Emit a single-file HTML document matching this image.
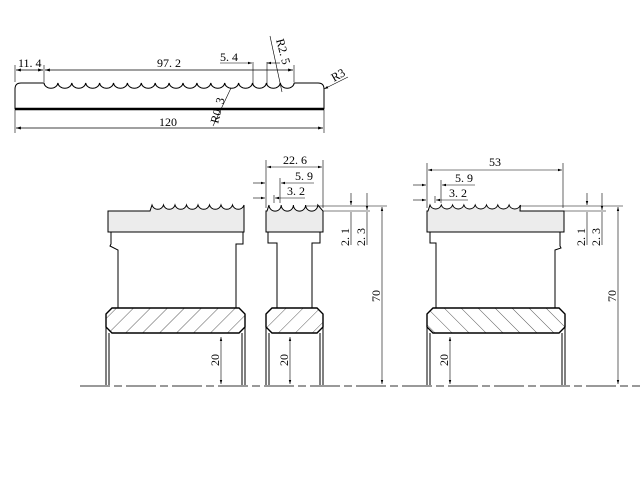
<!DOCTYPE html>
<html><head><style>html,body{margin:0;padding:0;background:#fff}svg{display:block}</style></head><body>
<svg width="640" height="480" viewBox="0 0 640 480" xmlns="http://www.w3.org/2000/svg" font-family="Liberation Serif, serif">
<defs>
<pattern id="hl" width="12" height="12" patternUnits="userSpaceOnUse" patternTransform="rotate(45)"><line x1="0" y1="0" x2="0" y2="12" stroke="#333" stroke-width="0.8"/></pattern>
<pattern id="hr" width="12" height="12" patternUnits="userSpaceOnUse" patternTransform="rotate(-45)"><line x1="0" y1="0" x2="0" y2="12" stroke="#333" stroke-width="0.8"/></pattern>
<marker id="a" viewBox="0 0 10 10" refX="10" refY="5" markerWidth="7" markerHeight="7" orient="auto-start-reverse"><path d="M0,2 L10,5 L0,8 z" fill="#000"/></marker>
</defs>
<g fill="none" stroke="#000" stroke-width="1">
<path d="M15,109 L15,89 Q15,83 21,83 L44,83 a7,6 0 0 0 13.9,0 a7,6 0 0 0 13.9,0 a7,6 0 0 0 13.9,0 a7,6 0 0 0 13.9,0 a7,6 0 0 0 13.9,0 a7,6 0 0 0 13.9,0 a7,6 0 0 0 13.9,0 a7,6 0 0 0 13.9,0 a7,6 0 0 0 13.9,0 a7,6 0 0 0 13.9,0 a7,6 0 0 0 13.9,0 a7,6 0 0 0 13.9,0 a7,6 0 0 0 13.9,0 a7,6 0 0 0 13.9,0 a7,6 0 0 0 13.9,0 a7,6 0 0 0 13.9,0 a7,6 0 0 0 13.9,0 a7,6 0 0 0 13.9,0 L318,83 Q324,83 324,89 L324,109 Z"/>
<line x1="15" y1="109" x2="324" y2="109" stroke-width="2.5"/>
<line x1="15" y1="110" x2="15" y2="133" stroke-width="0.6"/><line x1="324" y1="110" x2="324" y2="133" stroke-width="0.6"/>
<line x1="16" y1="128" x2="323" y2="128" stroke-width="0.7" marker-start="url(#a)" marker-end="url(#a)"/>
<line x1="15" y1="65" x2="15" y2="82" stroke-width="0.6"/><line x1="44" y1="65" x2="44" y2="82" stroke-width="0.6"/><line x1="294" y1="65" x2="294" y2="82" stroke-width="0.6"/>
<line x1="16" y1="70" x2="43" y2="70" stroke-width="0.7" marker-start="url(#a)" marker-end="url(#a)"/>
<line x1="45" y1="70" x2="293" y2="70" stroke-width="0.7" marker-start="url(#a)" marker-end="url(#a)"/>
<line x1="253" y1="62" x2="253" y2="85" stroke-width="0.6"/><line x1="267" y1="62" x2="267" y2="85" stroke-width="0.6"/>
<line x1="220" y1="63" x2="252" y2="63" stroke-width="0.6" marker-end="url(#a)"/><line x1="267" y1="63" x2="280" y2="63" stroke-width="0.6" marker-start="url(#a)"/>
<line x1="270" y1="36" x2="282" y2="92" stroke-width="0.6"/>
<line x1="213" y1="126" x2="231" y2="88" stroke-width="0.6"/>
<line x1="348" y1="77" x2="324" y2="89" stroke-width="0.6" marker-end="url(#a)"/>

<!-- left part -->
<path d="M108,211 L150,211 L152,205 a6,6 0 0 0 11.5,0 a6,6 0 0 0 11.5,0 a6,6 0 0 0 11.5,0 a6,6 0 0 0 11.5,0 a6,6 0 0 0 11.5,0 a6,6 0 0 0 11.5,0 a6,6 0 0 0 11.5,0 a6,6 0 0 0 11.5,0 L244,211 L244,232 L108,232 Z" fill="#ececec"/>
<path d="M111,232 L111,244 L110,246 L118,250 L118,308 M243,232 L243,244 L236,244 L236,308" />
<path d="M106,314 L112,308 L239,308 L245,314 L245,327 L239,333 L112,333 L106,327 Z" fill="url(#hl)" stroke-width="1.4"/>
<path d="M106,327 L106,386 M109,333 L109,386 M245,327 L245,386 M242,333 L242,386"/>
<line x1="221" y1="337" x2="221" y2="384" stroke-width="0.6" marker-start="url(#a)" marker-end="url(#a)"/>

<!-- middle part -->
<path d="M266,211 L267,211 L269,205 a6,6 0 0 0 12.2,0 a6,6 0 0 0 12.2,0 a6,6 0 0 0 12.2,0 a6,6 0 0 0 12.2,0 L323,211 L323,232 L266,232 Z" fill="#ececec"/>
<path d="M268,232 L268,243 L277,243 L277,308 M320,232 L320,243 L312,243 L312,308"/>
<path d="M266,314 L272,308 L317,308 L323,314 L323,327 L317,333 L272,333 L266,327 Z" fill="url(#hl)" stroke-width="1.4"/>
<path d="M266,327 L266,386 M269,333 L269,386 M323,327 L323,386 M320,333 L320,386"/>
<line x1="290" y1="337" x2="290" y2="384" stroke-width="0.6" marker-start="url(#a)" marker-end="url(#a)"/>
<g stroke-width="0.6">
<line x1="266" y1="160" x2="266" y2="208"/><line x1="323" y1="160" x2="323" y2="208"/>
<line x1="267" y1="167" x2="322" y2="167" marker-start="url(#a)" marker-end="url(#a)"/>
<line x1="280" y1="178" x2="280" y2="203"/>
<line x1="253" y1="183" x2="265" y2="183" marker-end="url(#a)"/><line x1="281" y1="183" x2="314" y2="183" marker-start="url(#a)"/>
<line x1="274" y1="195" x2="274" y2="203"/>
<line x1="253" y1="198" x2="265" y2="198" marker-end="url(#a)"/><line x1="275" y1="198" x2="305" y2="198" marker-start="url(#a)"/>
<line x1="305" y1="206" x2="387" y2="206"/><line x1="323" y1="211" x2="370" y2="211"/>
<line x1="351" y1="193" x2="351" y2="205" marker-end="url(#a)"/><line x1="351" y1="212" x2="351" y2="245"/>
<line x1="367" y1="193" x2="367" y2="210" marker-end="url(#a)"/><line x1="367" y1="212" x2="367" y2="245"/>
<line x1="382" y1="207" x2="382" y2="384" marker-start="url(#a)" marker-end="url(#a)"/>
</g>

<!-- right part -->
<path d="M427,211 L428,211 L430,205 a6,6 0 0 0 11.3,0 a6,6 0 0 0 11.3,0 a6,6 0 0 0 11.3,0 a6,6 0 0 0 11.3,0 a6,6 0 0 0 11.3,0 a6,6 0 0 0 11.3,0 a6,6 0 0 0 11.3,0 a6,6 0 0 0 11.3,0 L520,211 L564,211 L564,232 L427,232 Z" fill="#ececec"/>
<path d="M430,232 L430,243 L436,243 L436,308 M560,232 L560,246 L561,248 L555,250 L555,308"/>
<path d="M427,314 L433,308 L559,308 L565,314 L565,327 L559,333 L433,333 L427,327 Z" fill="url(#hr)" stroke-width="1.4"/>
<path d="M427,327 L427,386 M430,333 L430,386 M565,327 L565,386 M562,333 L562,386"/>
<line x1="450" y1="337" x2="450" y2="384" stroke-width="0.6" marker-start="url(#a)" marker-end="url(#a)"/>
<g stroke-width="0.6">
<line x1="427" y1="163" x2="427" y2="208"/><line x1="563" y1="163" x2="563" y2="208"/>
<line x1="428" y1="170" x2="562" y2="170" marker-start="url(#a)" marker-end="url(#a)"/>
<line x1="441" y1="180" x2="441" y2="203"/>
<line x1="413" y1="185" x2="426" y2="185" marker-end="url(#a)"/><line x1="442" y1="185" x2="475" y2="185" marker-start="url(#a)"/>
<line x1="435" y1="196" x2="435" y2="203"/>
<line x1="413" y1="200" x2="426" y2="200" marker-end="url(#a)"/><line x1="436" y1="200" x2="468" y2="200" marker-start="url(#a)"/>
<line x1="520" y1="206" x2="623" y2="206"/><line x1="564" y1="211" x2="606" y2="211"/>
<line x1="587" y1="193" x2="587" y2="205" marker-end="url(#a)"/><line x1="587" y1="212" x2="587" y2="245"/>
<line x1="602" y1="193" x2="602" y2="210" marker-end="url(#a)"/><line x1="602" y1="212" x2="602" y2="245"/>
<line x1="618" y1="207" x2="618" y2="384" marker-start="url(#a)" marker-end="url(#a)"/>
</g>
</g>
<line x1="80" y1="386" x2="640" y2="386" stroke="#999" stroke-width="2" stroke-dasharray="30,4,8,4"/>

<g font-size="12" fill="#000">
<text x="18" y="67">11. 4</text>
<text x="157" y="67">97. 2</text>
<text x="220" y="61">5. 4</text>
<text x="159" y="126">120</text>
<text x="334" y="82" transform="rotate(-30 334 82)">R3</text>
<text x="276" y="40" transform="rotate(75 276 40)">R2. 5</text>
<text x="218" y="124" transform="rotate(-75 218 124)">R0. 3</text>
<text x="283" y="164">22. 6</text>
<text x="295" y="180">5. 9</text>
<text x="287" y="195">3. 2</text>
<text x="489" y="166">53</text>
<text x="455" y="182">5. 9</text>
<text x="449" y="197">3. 2</text>
<text transform="translate(219,366) rotate(-90)">20</text>
<text transform="translate(288,366) rotate(-90)">20</text>
<text transform="translate(448,366) rotate(-90)">20</text>
<text transform="translate(380,302) rotate(-90)">70</text>
<text transform="translate(616,302) rotate(-90)">70</text>
<text transform="translate(349,246) rotate(-90)">2. 1</text>
<text transform="translate(365,246) rotate(-90)">2. 3</text>
<text transform="translate(585,246) rotate(-90)">2. 1</text>
<text transform="translate(600,246) rotate(-90)">2. 3</text>
</g>
</svg>
</body></html>
